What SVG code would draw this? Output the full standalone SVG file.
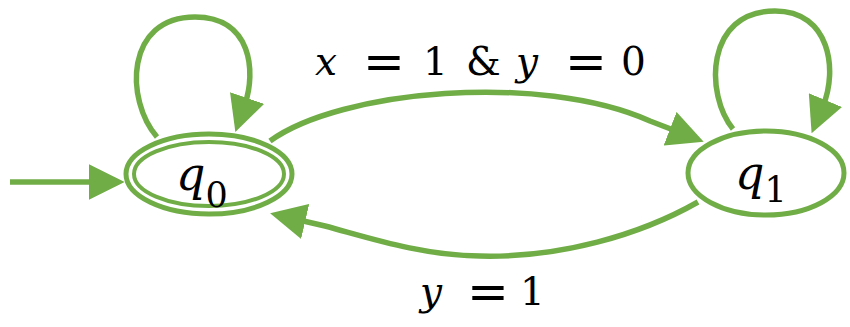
<svg xmlns="http://www.w3.org/2000/svg" width="850" height="327" viewBox="0 0 850 327">
<style>
.edge{fill:none;stroke:#70AD47;stroke-width:5.5;stroke-linecap:butt}
.state{fill:#ffffff;stroke:#70AD47;stroke-width:5}
.inner{fill:none;stroke:#70AD47;stroke-width:4}
.lbl{font-family:"DejaVu Serif","Liberation Serif",serif;fill:#000000}
.it{font-style:italic}
.eq{font-size:50px}
</style>
<defs>
<marker id="arrow" markerUnits="userSpaceOnUse" markerWidth="36" markerHeight="36" viewBox="0 0 34 34" refX="6" refY="17" orient="auto">
<path d="M0,0 L34,17 L0,34 z" fill="#70AD47"/>
</marker>
</defs>
<g id="edges">
<path id="e-start" class="edge" d="M10,182 L95,182" marker-end="url(#arrow)"/>
<path id="e-q0-loop" class="edge" d="M157,137 C125,100 125,17 195,17 C252,17 256,72 245,104" marker-end="url(#arrow)"/>
<path id="e-q1-loop" class="edge" d="M733,129 C705,95 705,11 775,11 C830,11 838,70 823,106" marker-end="url(#arrow)"/>
<path id="e-q0-q1" class="edge" d="M270,141 C340,90 540,72 650,121 L676,131" marker-end="url(#arrow)"/>
<path id="e-q1-q0" class="edge" d="M698,202 C640,235 560,258 480,256 C420,255 370,238 325,226 L299,220" marker-end="url(#arrow)"/>
</g>
<g id="q0">
<ellipse class="state" cx="209" cy="174" rx="83" ry="40"/>
<ellipse class="inner" cx="209" cy="174" rx="75" ry="32"/>
<text class="lbl" x="176" y="190" font-size="46"><tspan class="it">q</tspan><tspan font-size="35" dy="17">0</tspan></text>
</g>
<g id="q1">
<ellipse class="state" cx="766" cy="173" rx="78" ry="42"/>
<text class="lbl" x="735" y="189" font-size="46"><tspan class="it">q</tspan><tspan font-size="35" dy="13">1</tspan></text>
</g>
<g id="labels">
<text class="lbl" y="75" font-size="39"><tspan class="it" x="315">x</tspan> <tspan class="eq" x="363" dy="4">=</tspan> <tspan x="423" dy="-4">1</tspan> <tspan x="466">&amp;</tspan> <tspan class="it" x="516">y</tspan> <tspan class="eq" x="565" dy="4">=</tspan> <tspan x="621" dy="-4">0</tspan></text>
<text class="lbl" y="305" font-size="39"><tspan class="it" x="420">y</tspan> <tspan class="eq" x="467" dy="4">=</tspan> <tspan x="520" dy="-4">1</tspan></text>
</g>
</svg>
